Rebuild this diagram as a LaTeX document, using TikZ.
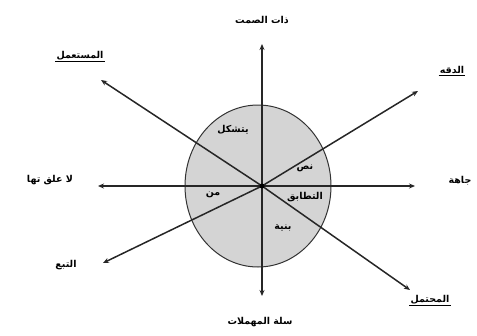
\documentclass[tikz,border=0pt]{standalone}
\usepackage{fontspec}
\newfontfamily\arabicfont[Script=Arabic]{DejaVu Sans}
\TeXXeTstate=1
\usetikzlibrary{arrows.meta,shapes.geometric}
\begin{document}
\begin{tikzpicture}[x=1pt,y=-1pt,
  axis/.style={line width=1.5pt,draw=black!85,-{Stealth[length=6pt,width=5pt]}},
  lab/.style={font=\arabicfont\bfseries\fontsize{9.5}{11}\selectfont,inner sep=1pt},
]
\useasboundingbox (0,0) rectangle (477,335);
\node[ellipse,draw=black!80,line width=1pt,fill=black!17,minimum width=146pt,minimum height=162pt,inner sep=0] (ell) at (258,186) {};
\coordinate (c) at (262,186);
\coordinate (tN) at (262,44);
\coordinate (tS) at (262,296);
\coordinate (tW) at (98,186);
\coordinate (tE) at (415,186);
\coordinate (tNW) at (101,80);
\coordinate (tNE) at (418,91);
\coordinate (tSW) at (103,263);
\coordinate (tSE) at (410,290);
\foreach \t in {tN,tS,tW,tE,tNW,tNE,tSW,tSE} \draw[axis] (c) -- (\t);
\fill (c) circle (2.5pt);
\node[lab] (lN) at (262,20) {\beginR ذات الصمت\endR};
\node[lab] (lNW) at (80,56) {\beginR المستعمل\endR};
\draw[line width=0.8pt] (lNW.south west) -- (lNW.south east);
\node[lab] (lNE) at (452,70) {\beginR الدقه\endR};
\draw[line width=0.8pt] (lNE.south west) -- (lNE.south east);
\node[lab] (lW) at (50,180) {\beginR لا علق تها\endR};
\node[lab] (lE) at (460,181) {\beginR جاهة\endR};
\node[lab] (lSW) at (66,265) {\beginR التبع\endR};
\node[lab] (lSE) at (430,300) {\beginR المحتمل\endR};
\draw[line width=0.8pt] (lSE.south west) -- (lSE.south east);
\node[lab] (lS) at (260,322) {\beginR سلة المهملات\endR};
\node[lab] (i1) at (233,130) {\beginR يتشكل\endR};
\node[lab] (i2) at (305,168) {\beginR نص\endR};
\node[lab] (i3) at (305,197) {\beginR التطابق\endR};
\node[lab] (i4) at (283,228) {\beginR بنية\endR};
\node[lab] (i5) at (213,195) {\beginR من\endR};
\end{tikzpicture}
\end{document}
